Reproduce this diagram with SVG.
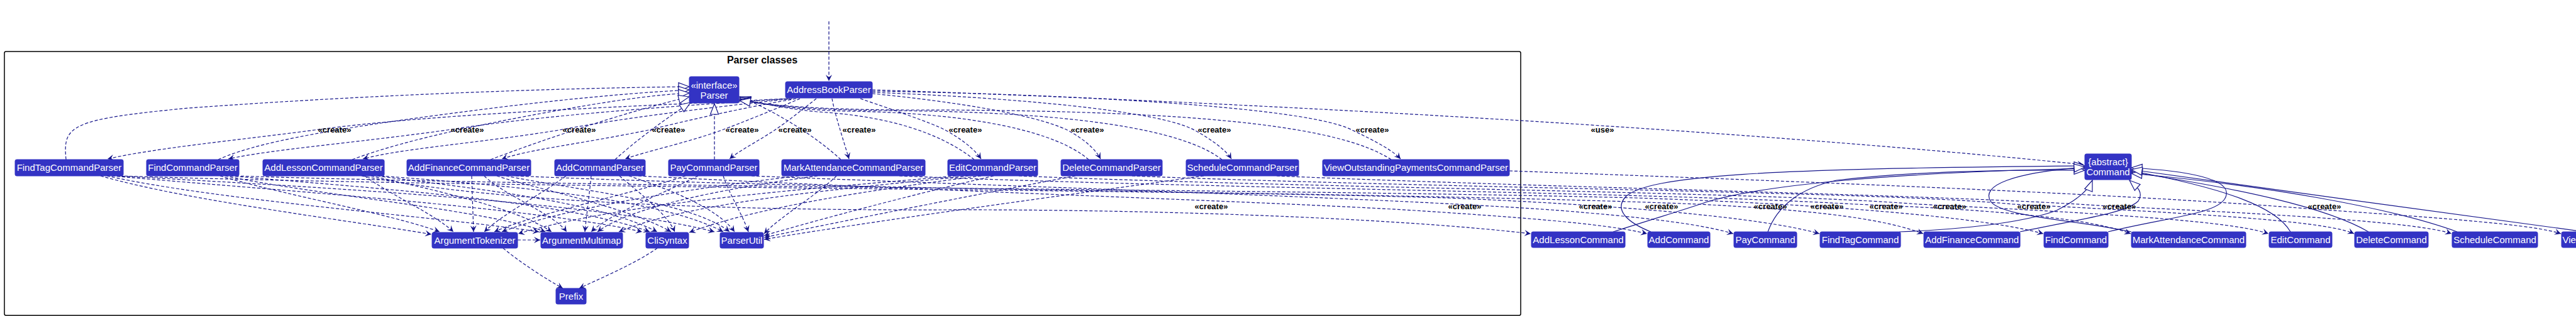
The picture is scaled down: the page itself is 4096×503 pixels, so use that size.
<svg xmlns="http://www.w3.org/2000/svg" width="4096" height="503" viewBox="0 0 4096 503">
<style>
.n{fill:#3333C4;stroke:#3333C4;stroke-width:1}
.t{fill:#ffffff;font-family:"Liberation Sans",Arial,sans-serif;font-size:15px;text-anchor:middle}
.l{fill:#000000;font-family:"Liberation Sans",Arial,sans-serif;font-size:13px;font-weight:bold;text-anchor:middle}
.d{fill:none;stroke:#14148A;stroke-width:1.2;stroke-dasharray:5 3;marker-end:url(#a)}
.i{fill:none;stroke:#14148A;stroke-width:1.2;stroke-dasharray:5 3;marker-end:url(#t)}
.s{fill:none;stroke:#14148A;stroke-width:1.2;marker-end:url(#t)}
</style>
<defs>
<marker id="a" markerUnits="userSpaceOnUse" viewBox="-11 -6 12 12" refX="0" refY="0" markerWidth="12" markerHeight="12" orient="auto">
<path d="M0,0 L-10,-5 L-6,0 L-10,5 Z" fill="#14148A" stroke="none"/>
</marker>
<marker id="t" markerUnits="userSpaceOnUse" viewBox="-19 -8 20 16" refX="0" refY="0" markerWidth="20" markerHeight="16" orient="auto">
<path d="M0,0 L-17,-6.5 L-17,6.5 Z" fill="#ffffff" stroke="#14148A" stroke-width="1.2" stroke-dasharray="none"/>
</marker>
</defs>
<rect width="4096" height="503" fill="#ffffff"/>

<g id="frame">
<rect x="7" y="82" width="2411" height="420" rx="2.5" fill="none" stroke="#000000" stroke-width="1.5"/>
<text x="1212" y="101" font-family="'Liberation Sans',Arial,sans-serif" font-size="16" font-weight="bold" text-anchor="middle" fill="#000000">Parser classes</text>
</g>

<g id="connectors">
<path class="d" d="M1318,34 L1318,129"/>
<path class="d" d="M1252,157 C1000,170 700,180 500,207 C380,223 250,235 171,253"/>
<path class="d" d="M1256,157 C1050,170 850,185 711,207 C560,228 430,238 363,253"/>
<path class="d" d="M1260,157 C1120,172 990,188 889,207 C760,228 640,236 577,253"/>
<path class="d" d="M1266,157 C1180,172 1100,190 1031,207 C930,228 840,238 798,253"/>
<path class="d" d="M1272,157 C1230,175 1180,195 1148,207 C1090,228 1030,240 994,253"/>
<path class="d" d="M1298,157 C1275,175 1250,195 1232,207 C1200,228 1175,240 1160,253"/>
<path class="d" d="M1323,157 C1327,180 1340,220 1350,253"/>
<path class="d" d="M1368,157 C1420,175 1480,195 1503,207 C1530,222 1550,238 1560,253"/>
<path class="d" d="M1387,149 C1500,160 1640,180 1697,207 C1725,222 1742,238 1750,253"/>
<path class="d" d="M1387,147 C1600,155 1840,175 1899,207 C1930,224 1950,240 1958,253"/>
<path class="d" d="M1387,145 C1700,150 2080,170 2150,207 C2190,226 2215,240 2227,253"/>
<path class="d" d="M1387,143 C1900,160 2700,200 3313,262"/>
<path class="i" d="M105,254 C100,200 110,190 300,172 C600,150 900,140 1096,138"/>
<path class="i" d="M347,254 C420,220 600,195 800,170 C950,152 1040,146 1096,143"/>
<path class="i" d="M560,254 C650,220 800,190 950,165 C1020,154 1060,150 1096,148"/>
<path class="i" d="M780,254 C870,220 990,180 1096,154"/>
<path class="i" d="M978,254 C1010,225 1050,195 1098,163"/>
<path class="i" d="M1136,254 L1136,165"/>
<path class="i" d="M1337,254 C1300,220 1240,180 1176,154"/>
<path class="i" d="M1549,254 C1500,215 1420,185 1300,178 C1240,172 1200,162 1176,156"/>
<path class="i" d="M1731,254 C1680,210 1550,180 1350,177 C1260,175 1210,165 1176,158"/>
<path class="i" d="M1943,254 C1880,205 1700,177 1400,176 C1280,175 1215,166 1176,159"/>
<path class="i" d="M2212,254 C2130,200 1900,175 1450,175 C1300,175 1220,167 1176,160"/>
<path class="d" d="M160,280 C300,320 550,350 686,373"/>
<path class="d" d="M170,280 C350,320 700,345 857,369"/>
<path class="d" d="M178,280 C400,300 850,330 1021,369"/>
<path class="d" d="M186,280 C450,295 950,320 1136,369"/>
<path class="d" d="M350,280 C450,310 620,340 699,369"/>
<path class="d" d="M358,280 C500,310 780,335 867,369"/>
<path class="d" d="M366,280 C600,300 900,320 1033,369"/>
<path class="d" d="M580,280 C620,310 690,340 721,369"/>
<path class="d" d="M590,280 C680,300 820,330 877,369"/>
<path class="d" d="M600,280 C750,300 950,320 1045,369"/>
<path class="d" d="M606,280 C800,295 1050,315 1150,369"/>
<path class="d" d="M750,280 C751,310 752,340 753,369"/>
<path class="d" d="M770,280 C800,310 880,340 901,369"/>
<path class="d" d="M790,280 C850,300 1000,330 1067,369"/>
<path class="d" d="M805,280 C900,300 1100,320 1160,369"/>
<path class="d" d="M900,280 C860,310 800,340 770,369"/>
<path class="d" d="M940,280 C937,310 933,340 930,369"/>
<path class="d" d="M985,280 C1020,310 1060,340 1073,369"/>
<path class="d" d="M1000,280 C1060,300 1140,330 1168,369"/>
<path class="d" d="M1090,280 C1000,310 850,340 786,369"/>
<path class="d" d="M1110,280 C1050,310 970,340 940,369"/>
<path class="d" d="M1150,280 C1160,310 1180,340 1190,369"/>
<path class="d" d="M1270,280 C1100,300 900,330 798,369"/>
<path class="d" d="M1300,280 C1150,300 1000,330 950,369"/>
<path class="d" d="M1330,280 C1300,310 1240,345 1215,372"/>
<path class="d" d="M1520,280 C1300,300 1000,320 824,372"/>
<path class="d" d="M1540,280 C1350,300 1100,320 984,369"/>
<path class="d" d="M1560,280 C1400,300 1200,330 1096,370"/>
<path class="d" d="M1580,280 C1450,310 1300,350 1215,375"/>
<path class="d" d="M1710,280 C1550,310 1350,350 1215,378"/>
<path class="d" d="M1914,280 C1700,310 1400,350 1215,381"/>
<path class="d" d="M823,382 L859,382"/>
<path class="d" d="M800,395 C830,420 870,445 895,459"/>
<path class="d" d="M1045,395 C1010,420 950,445 921,459"/>
<path class="d" d="M575,280 C800,325 1200,335 1500,334 C1800,333 2200,345 2434,372"/>
<path class="d" d="M1015,280 C1500,305 2000,320 2250,335 C2400,345 2550,355 2619,372"/>
<path class="d" d="M1195,280 C1700,300 2200,315 2480,335 C2600,345 2700,355 2756,372"/>
<path class="d" d="M190,280 C800,300 1800,300 2300,315 C2550,325 2800,345 2893,372"/>
<path class="d" d="M820,280 C1400,305 2200,305 2700,325 C2900,335 3000,350 3058,372"/>
<path class="d" d="M375,280 C1000,300 2000,300 2600,315 C2900,325 3150,345 3249,372"/>
<path class="d" d="M1430,280 C1900,300 2600,305 2950,325 C3200,335 3330,350 3388,372"/>
<path class="d" d="M1620,280 C2100,300 2800,305 3050,325 C3350,340 3550,352 3607,372"/>
<path class="d" d="M1800,280 C2300,300 3000,305 3200,325 C3500,340 3700,352 3743,372"/>
<path class="d" d="M2030,280 C2500,300 3100,310 3350,328 C3650,342 3850,355 3898,372"/>
<path class="d" d="M2400,272 C2900,290 3400,310 3680,333 C3900,348 4030,358 4072,372"/>
<path class="s" d="M2565,369 C2640,345 2690,330 2712,322 C2800,295 3000,275 3315,268"/>
<path class="s" d="M2625,369 C2590,355 2565,335 2585,313 C2620,280 2800,268 3315,264"/>
<path class="s" d="M2811,369 C2825,330 2860,300 2920,287 C3050,272 3200,270 3315,271"/>
<path class="s" d="M3020,369 C3150,364 3230,350 3270,335 C3300,320 3320,305 3327,287"/>
<path class="s" d="M3212,369 C3300,350 3380,340 3400,320 C3410,305 3395,295 3386,287"/>
<path class="s" d="M3352,369 C3450,345 3536,340 3540,310 C3545,285 3480,272 3389,267"/>
<path class="s" d="M3389,369 C3300,350 3180,345 3165,320 C3150,295 3200,275 3315,266"/>
<path class="s" d="M3642,369 C3620,330 3540,300 3389,272"/>
<path class="s" d="M3766,369 C3700,330 3560,300 3389,274"/>
<path class="s" d="M3907,369 C3800,330 3600,295 3389,276"/>
<path class="s" d="M4110,369 C3900,340 3600,300 3389,270"/>
</g>

<g id="labels">
<text class="l" x="532" y="211">«create»</text>
<text class="l" x="743" y="211">«create»</text>
<text class="l" x="921" y="211">«create»</text>
<text class="l" x="1063" y="211">«create»</text>
<text class="l" x="1180" y="211">«create»</text>
<text class="l" x="1264" y="211">«create»</text>
<text class="l" x="1366" y="211">«create»</text>
<text class="l" x="1535" y="211">«create»</text>
<text class="l" x="1729" y="211">«create»</text>
<text class="l" x="1931" y="211">«create»</text>
<text class="l" x="2182" y="211">«create»</text>
<text class="l" x="2548" y="211">«use»</text>
<text class="l" x="1926" y="333">«create»</text>
<text class="l" x="2329" y="333">«create»</text>
<text class="l" x="2537" y="333">«create»</text>
<text class="l" x="2642" y="333">«create»</text>
<text class="l" x="2815" y="333">«create»</text>
<text class="l" x="2905" y="333">«create»</text>
<text class="l" x="2999" y="333">«create»</text>
<text class="l" x="3100" y="333">«create»</text>
<text class="l" x="3234" y="333">«create»</text>
<text class="l" x="3370" y="333">«create»</text>
<text class="l" x="3696" y="333">«create»</text>
</g>

<g id="Parser"><rect class="n" x="1096" y="122" width="79" height="42" rx="2.5"/><text class="t" x="1135.5" y="141">«interface»</text><text class="t" x="1135.5" y="157">Parser</text></g>
<g id="AddressBookParser"><rect class="n" x="1249" y="130" width="138" height="26" rx="2.5"/><text class="t" x="1318" y="148">AddressBookParser</text></g>
<g id="FindTagCommandParser"><rect class="n" x="24" y="254" width="172" height="26" rx="2.5"/><text class="t" x="110" y="272">FindTagCommandParser</text></g>
<g id="FindCommandParser"><rect class="n" x="233" y="254" width="147" height="26" rx="2.5"/><text class="t" x="306.5" y="272">FindCommandParser</text></g>
<g id="AddLessonCommandParser"><rect class="n" x="418" y="254" width="193" height="26" rx="2.5"/><text class="t" x="514.5" y="272">AddLessonCommandParser</text></g>
<g id="AddFinanceCommandParser"><rect class="n" x="647" y="254" width="197" height="26" rx="2.5"/><text class="t" x="745.5" y="272">AddFinanceCommandParser</text></g>
<g id="AddCommandParser"><rect class="n" x="882" y="254" width="144" height="26" rx="2.5"/><text class="t" x="954" y="272">AddCommandParser</text></g>
<g id="PayCommandParser"><rect class="n" x="1063" y="254" width="144" height="26" rx="2.5"/><text class="t" x="1135" y="272">PayCommandParser</text></g>
<g id="MarkAttendanceCommandParser"><rect class="n" x="1243" y="254" width="228" height="26" rx="2.5"/><text class="t" x="1357" y="272">MarkAttendanceCommandParser</text></g>
<g id="EditCommandParser"><rect class="n" x="1507" y="254" width="143" height="26" rx="2.5"/><text class="t" x="1578.5" y="272">EditCommandParser</text></g>
<g id="DeleteCommandParser"><rect class="n" x="1687" y="254" width="161" height="26" rx="2.5"/><text class="t" x="1767.5" y="272">DeleteCommandParser</text></g>
<g id="ScheduleCommandParser"><rect class="n" x="1886" y="254" width="179" height="26" rx="2.5"/><text class="t" x="1975.5" y="272">ScheduleCommandParser</text></g>
<g id="ViewOutstandingPaymentsCommandParser"><rect class="n" x="2103" y="254" width="297" height="26" rx="2.5"/><text class="t" x="2251.5" y="272">ViewOutstandingPaymentsCommandParser</text></g>
<g id="ArgumentTokenizer"><rect class="n" x="687" y="370" width="136" height="25" rx="2.5"/><text class="t" x="755" y="388">ArgumentTokenizer</text></g>
<g id="ArgumentMultimap"><rect class="n" x="860" y="370" width="130" height="25" rx="2.5"/><text class="t" x="925" y="388">ArgumentMultimap</text></g>
<g id="CliSyntax"><rect class="n" x="1027" y="370" width="68" height="25" rx="2.5"/><text class="t" x="1061" y="388">CliSyntax</text></g>
<g id="ParserUtil"><rect class="n" x="1145" y="370" width="69" height="25" rx="2.5"/><text class="t" x="1179.5" y="388">ParserUtil</text></g>
<g id="Prefix"><rect class="n" x="884" y="459" width="48" height="25" rx="2.5"/><text class="t" x="908" y="477">Prefix</text></g>
<g id="Command"><rect class="n" x="3315" y="245" width="74" height="41" rx="2.5"/><text class="t" x="3352" y="263">{abstract}</text><text class="t" x="3352" y="279">Command</text></g>
<g id="AddLessonCommand"><rect class="n" x="2435" y="369" width="149" height="25" rx="2.5"/><text class="t" x="2509.5" y="387">AddLessonCommand</text></g>
<g id="AddCommand"><rect class="n" x="2620" y="369" width="99" height="25" rx="2.5"/><text class="t" x="2669.5" y="387">AddCommand</text></g>
<g id="PayCommand"><rect class="n" x="2757" y="369" width="100" height="25" rx="2.5"/><text class="t" x="2807" y="387">PayCommand</text></g>
<g id="FindTagCommand"><rect class="n" x="2894" y="369" width="128" height="25" rx="2.5"/><text class="t" x="2958" y="387">FindTagCommand</text></g>
<g id="AddFinanceCommand"><rect class="n" x="3059" y="369" width="153" height="25" rx="2.5"/><text class="t" x="3135.5" y="387">AddFinanceCommand</text></g>
<g id="FindCommand"><rect class="n" x="3250" y="369" width="102" height="25" rx="2.5"/><text class="t" x="3301" y="387">FindCommand</text></g>
<g id="MarkAttendanceCommand"><rect class="n" x="3389" y="369" width="182" height="25" rx="2.5"/><text class="t" x="3480" y="387">MarkAttendanceCommand</text></g>
<g id="EditCommand"><rect class="n" x="3608" y="369" width="100" height="25" rx="2.5"/><text class="t" x="3658" y="387">EditCommand</text></g>
<g id="DeleteCommand"><rect class="n" x="3744" y="369" width="117" height="25" rx="2.5"/><text class="t" x="3802.5" y="387">DeleteCommand</text></g>
<g id="ScheduleCommand"><rect class="n" x="3899" y="369" width="136" height="25" rx="2.5"/><text class="t" x="3967" y="387">ScheduleCommand</text></g>
<g id="ViewOutstandingPaymentsCommand"><rect class="n" x="4073" y="369" width="252" height="25" rx="2.5"/><text class="t" x="4199" y="387">ViewOutstandingPaymentsCommand</text></g>
</svg>
